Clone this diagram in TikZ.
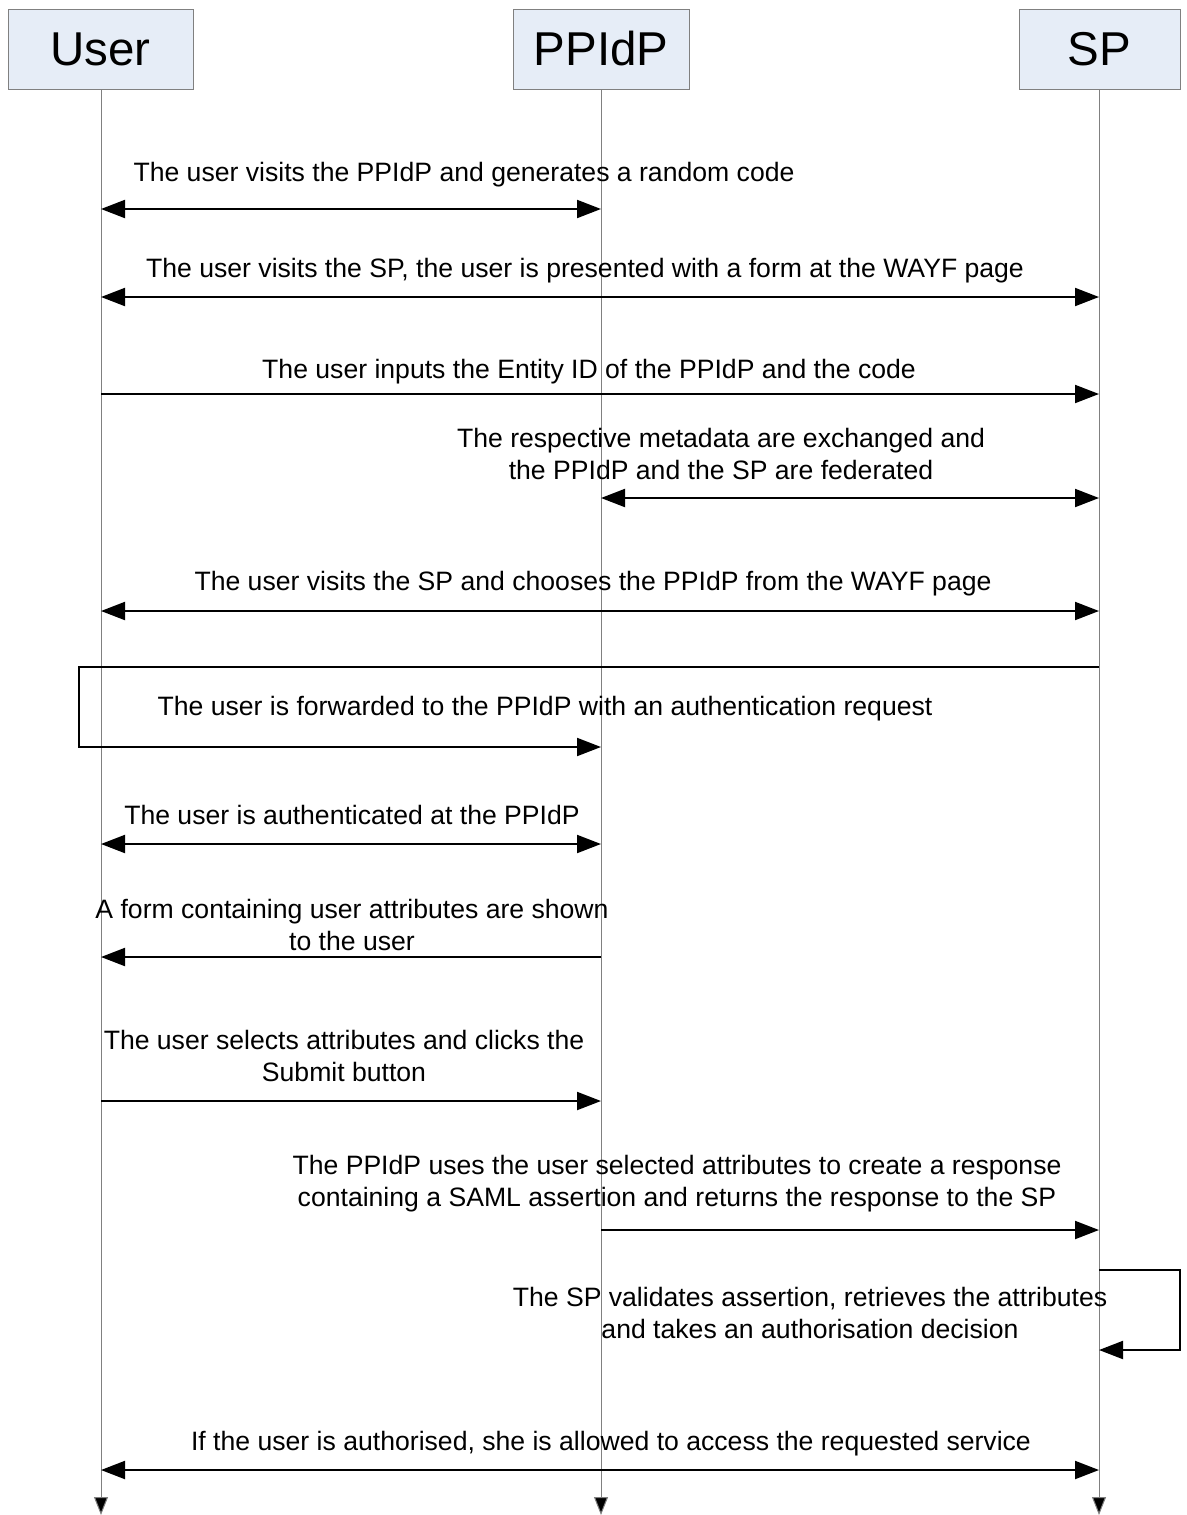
\documentclass[tikz,border=0pt]{standalone}
\usepackage{fontspec}
\setmainfont{Liberation Sans}
\usetikzlibrary{arrows.meta}
\definecolor{headfill}{HTML}{E6EDF7}
\definecolor{lifegray}{HTML}{808080}
\tikzset{
  actor/.style={draw=lifegray, fill=headfill, line width=1pt, inner sep=0pt,
    font=\fontsize{47.5}{56}\selectfont},
  lifeline/.style={draw=lifegray, line width=1pt,
    -{Triangle[length=18pt,width=14pt,fill=black]}},
  msg/.style={draw=black, line width=2pt, -{Triangle[length=24pt,width=18pt]}},
  dmsg/.style={draw=black, line width=2pt,
    {Triangle[length=24pt,width=18pt]}-{Triangle[length=24pt,width=18pt]}},
  lbl/.style={anchor=base, inner sep=0pt, align=center,
    font=\fontsize{26.6}{32}\selectfont}
}
\begin{document}
\begin{tikzpicture}[x=1pt, y=-1pt]
\useasboundingbox (0,0) rectangle (1186,1515);

% participants
\node[actor, minimum width=185pt, minimum height=80pt] (user)  at (100.5,49) {User};
\node[actor, minimum width=176pt, minimum height=80pt] (ppidp) at (601,49)   {PPIdP};
\node[actor, minimum width=161pt, minimum height=80pt] (sp)    at (1099.5,49) {SP};

% lifeline ends
\coordinate (uend) at (101,1515);
\coordinate (pend) at (601,1515);
\coordinate (send) at (1099,1515);
\draw[lifeline] (user.south -| uend) -- (uend);
\draw[lifeline] (ppidp.south -| pend) -- (pend);
\draw[lifeline] (sp.south -| send) -- (send);

% message anchor points on the lifelines
\foreach \n/\y in {1/209,2/297,3/394,4/498,5/611,6/667,7/747,8/844,9/957,10/1101,11/1230,12/1270,13/1350,14/1470}{
  \coordinate (u\n) at (101,\y);
  \coordinate (p\n) at (601,\y);
  \coordinate (s\n) at (1099,\y);
}
\coordinate (fwdleft) at (79,667);
\coordinate (fwdlow)  at (79,747);
\coordinate (selftop) at (1180,1270);
\coordinate (selfbot) at (1180,1350);

% messages (label base = baseline of the last text line)
\draw[dmsg] (u1) -- (p1);
\node[lbl] (t1) at (464,181) {The user visits the PPIdP and generates a random code};

\draw[dmsg] (u2) -- (s2);
\node[lbl] (t2) at (585,277) {The user visits the SP, the user is presented with a form at the WAYF page};

\draw[msg] (u3) -- (s3);
\node[lbl] (t3) at (589,378) {The user inputs the Entity ID of the PPIdP and the code};

\draw[dmsg] (p4) -- (s4);
\node[lbl] (t4) at (721,479) {The respective metadata are exchanged and\\the PPIdP and the SP are federated};

\draw[dmsg] (u5) -- (s5);
\node[lbl] (t5) at (593,590) {The user visits the SP and chooses the PPIdP from the WAYF page};

\draw[msg] (s6) -- (fwdleft) -- (fwdlow) -- (p7);
\node[lbl] (t6) at (545,715) {The user is forwarded to the PPIdP with an authentication request};

\draw[dmsg] (u8) -- (p8);
\node[lbl] (t7) at (352,824) {The user is authenticated at the PPIdP};

\draw[msg] (p9) -- (u9);
\node[lbl] (t8) at (352,950) {A form containing user attributes are shown\\to the user};

\draw[msg] (u10) -- (p10);
\node[lbl] (t9) at (344,1081) {The user selects attributes and clicks the\\Submit button};

\draw[msg] (p11) -- (s11);
\node[lbl] (t10) at (677,1206) {The PPIdP uses the user selected attributes to create a response\\containing a SAML assertion and returns the response to the SP};

\draw[msg] (s12) -- (selftop) -- (selfbot) -- (s13);
\node[lbl] (t11) at (810,1338) {The SP validates assertion, retrieves the attributes\\and takes an authorisation decision};

\draw[dmsg] (u14) -- (s14);
\node[lbl] (t12) at (611,1450) {If the user is authorised, she is allowed to access the requested service};
\end{tikzpicture}
\end{document}
